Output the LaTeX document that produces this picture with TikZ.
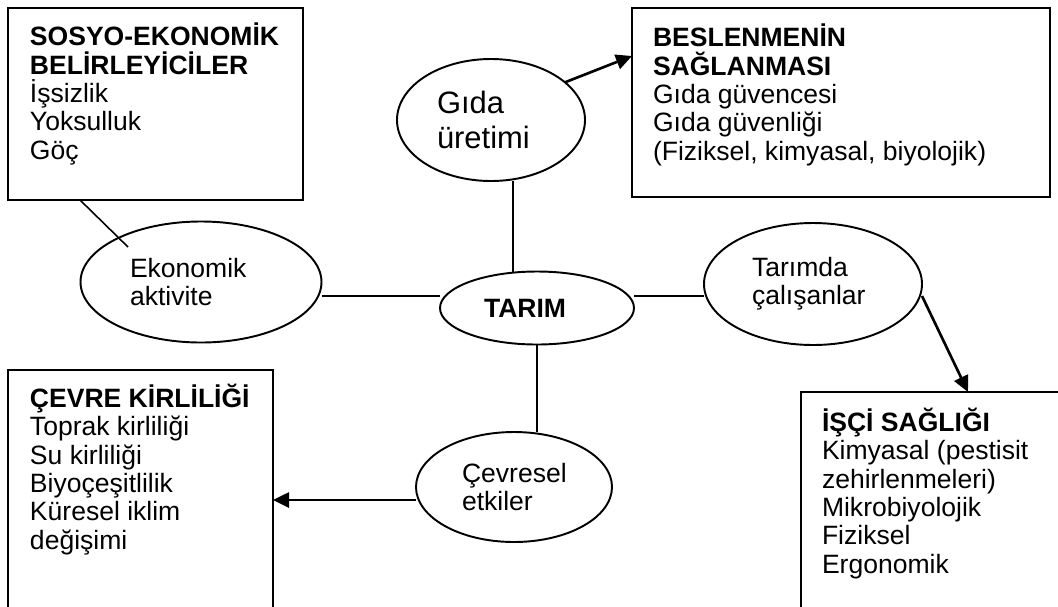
\documentclass[tikz,border=0pt]{standalone}
\usepackage{fontspec}
\setmainfont{Liberation Sans}
\usetikzlibrary{arrows.meta,shapes.geometric}
\newlength\px
\setlength\px{0.02cm}

\begin{document}
\begin{tikzpicture}[x=0.02cm,y=-0.02cm,
  every node/.style={inner sep=0pt,outer sep=0pt},
  kutu/.style={draw,line width=1.1pt,anchor=north west},
  yazi/.style={anchor=base west,align=left,font=\fontsize{15.1pt}{16.1pt}\selectfont},
  elips/.style={draw,ellipse,line width=1.1pt,align=left,font=\fontsize{15.1pt}{16.1pt}\selectfont},
  bag/.style={line width=0.9pt},
  ok/.style={line width=1.5pt,-{Triangle[length=0.32cm,width=0.3cm]}}]
\useasboundingbox (0,0) rectangle (1058,606);
\clip (0,0) rectangle (1058,606);

% kutular (yazi: son satirin tabani)
\node[kutu,minimum width=295\px,minimum height=192\px] (sosyo) at (8,8) {};
\node[yazi] (sosyoyazi) at (30,159) {\textbf{SOSYO-EKONOMİK}\\\textbf{BELİRLEYİCİLER}\\İşsizlik\\Yoksulluk\\Göç};

\node[kutu,minimum width=418\px,minimum height=189\px] (beslenme) at (632,8) {};
\node[yazi] (beslenmeyazi) at (653,160) {\textbf{BESLENMENİN}\\\textbf{SAĞLANMASI}\\Gıda güvencesi\\Gıda güvenliği\\(Fiziksel, kimyasal, biyolojik)};

\node[kutu,minimum width=265\px,minimum height=260\px] (cevre) at (8,370) {};
\node[yazi] (cevreyazi) at (30,549) {\textbf{ÇEVRE KİRLİLİĞİ}\\Toprak kirliliği\\Su kirliliği\\Biyoçeşitlilik\\Küresel iklim\\değişimi};

\node[kutu,minimum width=280\px,minimum height=240\px] (isci) at (801,392) {};
\node[yazi] (isciyazi) at (822,573) {\textbf{İŞÇİ SAĞLIĞI}\\Kimyasal (pestisit\\zehirlenmeleri)\\Mikrobiyolojik\\Fiziksel\\Ergonomik};

% elipsler
\node[elips,minimum width=188\px,minimum height=122\px,text width=108\px,
  font=\fontsize{17.6pt}{20.4pt}\selectfont] (gida) at (491,120) {Gıda\\üretimi};
\node[elips,minimum width=241\px,minimum height=121\px,text width=142\px] (eko) at (201,282) {Ekonomik\\aktivite};
\node[elips,minimum width=194\px,minimum height=73\px,text width=106\px] (tarim) at (537,308) {\textbf{TARIM}};
\node[elips,minimum width=218\px,minimum height=122\px,text width=122\px] (tarimda) at (813,284) {Tarımda\\çalışanlar};
\node[elips,minimum width=196\px,minimum height=110\px,text width=104\px] (cevresel) at (514,487) {Çevresel\\etkiler};

% baglantilar
\coordinate (s1) at (80,200);
\coordinate (e1) at (128,247);
\draw[bag] (s1) -- (e1);
\draw[bag] (eko.east |- 0,296) -- (tarim.west |- 0,296);
\draw[bag] (tarim.east |- 0,296) -- (tarimda.west |- 0,296);
\draw[bag] (gida.south -| 513,0) -- (tarim.north -| 513,0);
\draw[bag] (tarim.south) -- (cevresel.north -| tarim.south);

\draw[ok] (gida.27) -- (beslenme.west |- 0,56);
\draw[ok] (cevresel.west |- 0,500) -- (cevre.east |- 0,500);
\draw[ok] (tarimda.east |- 0,296) -- (isci.north -| 968,0);
\end{tikzpicture}
\end{document}
